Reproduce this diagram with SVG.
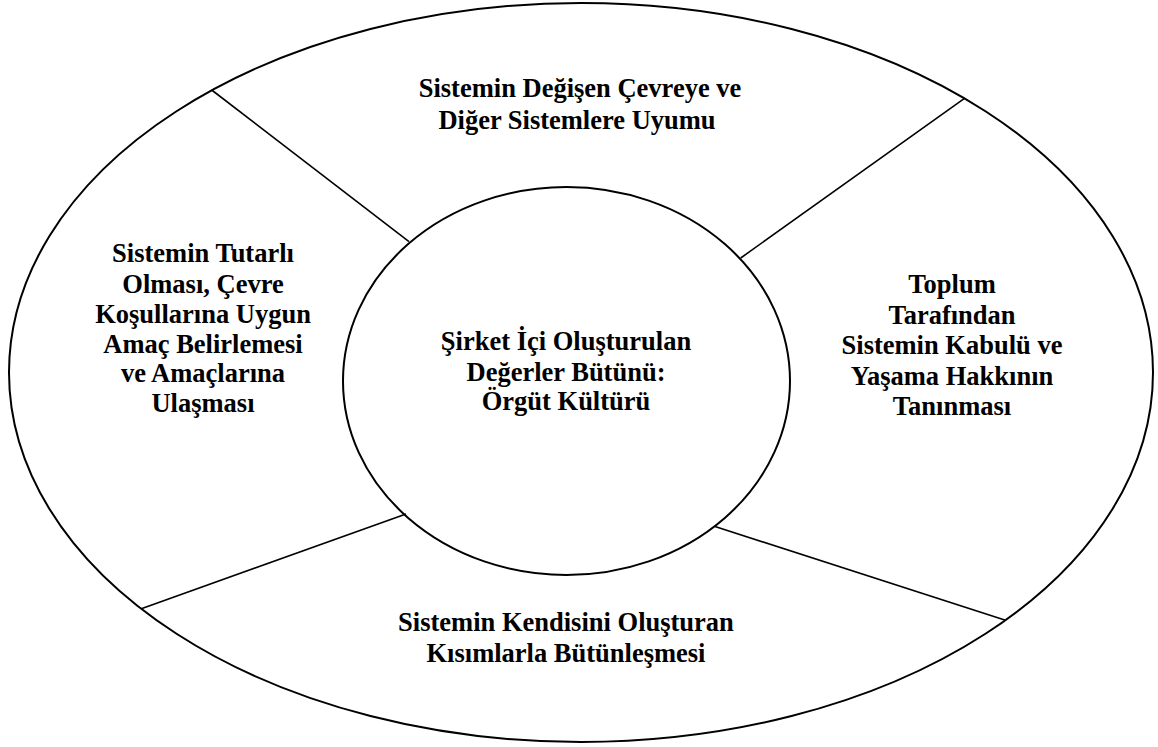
<svg xmlns="http://www.w3.org/2000/svg" width="1158" height="747" viewBox="0 0 1158 747">
<style>
.shape{fill:none;stroke:#000;stroke-width:2}
.conn{stroke:#000;stroke-width:1.6;fill:none}
.lbl{font-family:"Liberation Serif","Times New Roman",serif;font-weight:bold;font-size:26.5px;fill:#000;text-anchor:middle}
</style>
<rect width="1158" height="747" fill="#fff"/>
<g id="outer">
<ellipse class="shape" cx="581" cy="372.5" rx="572" ry="369.5"/>
</g>
<g id="connectors">
<line class="conn" x1="211.7" y1="90" x2="409" y2="241.7"/>
<line class="conn" x1="964.5" y1="98.4" x2="740.7" y2="258"/>
<line class="conn" x1="141.3" y1="608.8" x2="406" y2="514"/>
<line class="conn" x1="1005.5" y1="620.2" x2="715" y2="526.5"/>
</g>
<g id="center">
<ellipse class="shape" cx="566.5" cy="381" rx="223.5" ry="194" fill="#fff"/>
<text class="lbl"><tspan x="566" y="350">Şirket İçi Oluşturulan</tspan><tspan x="566" y="380.5">Değerler Bütünü:</tspan><tspan x="566" y="410">Örgüt Kültürü</tspan></text>
</g>
<g id="top">
<text class="lbl"><tspan x="580" y="97">Sistemin Değişen Çevreye ve</tspan><tspan x="577" y="129">Diğer Sistemlere Uyumu</tspan></text>
</g>
<g id="left">
<text class="lbl"><tspan x="203" y="262">Sistemin Tutarlı</tspan><tspan x="203" y="293">Olması, Çevre</tspan><tspan x="203" y="323">Koşullarına Uygun</tspan><tspan x="203" y="353">Amaç Belirlemesi</tspan><tspan x="203" y="382">ve Amaçlarına</tspan><tspan x="203" y="412">Ulaşması</tspan></text>
</g>
<g id="right">
<text class="lbl"><tspan x="952" y="293">Toplum</tspan><tspan x="952" y="324">Tarafından</tspan><tspan x="952" y="354">Sistemin Kabulü ve</tspan><tspan x="952" y="385">Yaşama Hakkının</tspan><tspan x="952" y="415">Tanınması</tspan></text>
</g>
<g id="bottom">
<text class="lbl"><tspan x="566" y="631">Sistemin Kendisini Oluşturan</tspan><tspan x="566" y="662">Kısımlarla Bütünleşmesi</tspan></text>
</g>
</svg>
